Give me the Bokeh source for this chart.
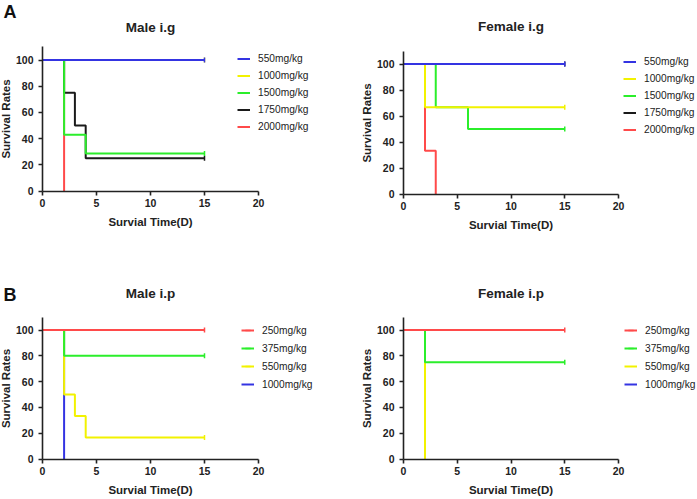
import numpy as np
from bokeh.plotting import figure
from bokeh.layouts import gridplot
from bokeh.models import Legend, LegendItem, Label, Range1d, ColumnDataSource
from bokeh.embed import file_html
from bokeh.resources import INLINE

# ---------------- data ----------------
x_ticks = [0, 5, 10, 15, 20]
y_ticks = [0, 20, 40, 60, 80, 100]

BLUE, YELLOW, GREEN, BLACK, RED = "#3434E2", "#F2F200", "#2BEE2B", "#1A1A1A", "#FF4A4A"

# Male i.g
mig_labels = ["550mg/kg", "1000mg/kg", "1500mg/kg", "1750mg/kg", "2000mg/kg"]
mig_colors = [BLUE, YELLOW, GREEN, BLACK, RED]
mig_times = [[0, 15], [0, 15], [0, 2, 4, 15], [0, 2, 3, 4, 15], [0, 2]]
mig_surv = [[100, 100], [100, 100], [100, 42.9, 28.6, 28.6], [100, 75, 50, 25, 25], [100, 0]]

# Female i.g
fig_labels = ["550mg/kg", "1000mg/kg", "1500mg/kg", "1750mg/kg", "2000mg/kg"]
fig_colors = [BLUE, YELLOW, GREEN, BLACK, RED]
fig_times = [[0, 15], [0, 2, 15], [0, 3, 6, 15], [0, 15], [0, 2, 3]]
fig_surv = [[100, 100], [100, 66.7, 66.7], [100, 66.7, 50, 50], [100, 100], [100, 33.3, 0]]

# Male i.p
mip_labels = ["250mg/kg", "375mg/kg", "550mg/kg", "1000mg/kg"]
mip_colors = [RED, GREEN, YELLOW, BLUE]
mip_times = [[0, 15], [0, 2, 15], [0, 2, 3, 4, 15], [0, 2]]
mip_surv = [[100, 100], [100, 80, 80], [100, 50, 33.3, 16.7, 16.7], [100, 0]]

# Female i.p
fip_labels = ["250mg/kg", "375mg/kg", "550mg/kg", "1000mg/kg"]
fip_colors = [RED, GREEN, YELLOW, BLUE]
fip_times = [[0, 15], [0, 2, 15], [0, 2], [0, 2]]
fip_surv = [[100, 100], [100, 75, 75], [100, 0], [100, 0]]

FONT = "Liberation Sans"
INK = "#222222"


def panel(title, labels, colors, times, surv, W, H, x0, x20, y0, y100,
          title_y, leg_xy, gh, letter=None, letter_xy=None):
    # pixel layout -> ranges (frame covers the whole figure, axes pinned at 0)
    kx = (x20 - x0) / 20.0
    ky = (y0 - y100) / 100.0
    xr = Range1d(-x0 / kx, (W - x0) / kx)
    yr = Range1d(-(H - y0) / ky, y0 / ky)

    def dx(px):
        return (px - x0) / kx

    def dy(py):
        return (y0 - py) / ky

    p = figure(width=W, height=H, x_range=xr, y_range=yr, title=None,
               output_backend="svg", toolbar_location=None,
               min_border_left=0, min_border_right=0, min_border_top=0, min_border_bottom=0)
    p.xgrid.visible = False
    p.ygrid.visible = False
    p.outline_line_color = None
    p.background_fill_color = "white"
    p.border_fill_color = "white"
    p.xaxis.ticker = x_ticks
    p.yaxis.ticker = y_ticks
    p.xaxis.axis_label = "Survial Time(D)"
    p.yaxis.axis_label = "Survival Rates"
    p.xaxis.fixed_location = 0
    p.yaxis.fixed_location = 0
    p.xaxis.bounds = (0, 20)
    p.yaxis.bounds = (0, 110)
    for ax in (p.xaxis[0], p.yaxis[0]):
        ax.axis_line_width = 1.6
        ax.axis_line_color = INK
        ax.major_tick_line_width = 1.6
        ax.major_tick_line_color = INK
        ax.major_tick_out = 4
        ax.major_tick_in = 0
        ax.minor_tick_line_color = None
        ax.major_label_text_font = FONT
        ax.major_label_text_font_style = "bold"
        ax.major_label_text_font_size = "10.5px"
        ax.major_label_text_color = INK
        ax.axis_label_text_font = FONT
        ax.axis_label_text_font_style = "bold"
        ax.axis_label_text_font_size = "11.5px"
        ax.axis_label_text_color = INK
    p.xaxis[0].major_label_standoff = 4
    p.xaxis[0].axis_label_standoff = 5
    p.yaxis[0].major_label_standoff = 5
    p.yaxis[0].axis_label_standoff = 1

    items = []
    for t, s, c, lab in reversed(list(zip(times, surv, colors, labels))):
        src = ColumnDataSource(dict(x=t, y=s))
        r = p.step("x", "y", source=src, mode="after", line_color=c, line_width=2)
        if s[-1] > 0:
            end = ColumnDataSource(dict(x=[t[-1]], y=[s[-1]]))
        else:
            end = ColumnDataSource(dict(x=[], y=[]))
        m = p.scatter("x", "y", source=end, marker="dash", angle=np.pi / 2, size=5,
                      line_color=c, line_width=1.5)
        items.append(LegendItem(label=lab, renderers=[r, m]))
    items.reverse()
    leg = Legend(items=items, location=leg_xy, orientation="vertical", padding=0, margin=0,
                 border_line_color=None, background_fill_alpha=0,
                 glyph_width=13, glyph_height=gh, label_height=gh, spacing=2,
                 label_standoff=8, label_text_font=FONT, label_text_font_size="10.2px",
                 label_text_color=INK)
    p.add_layout(leg, "center")

    p.add_layout(Label(x=10, y=dy(title_y), text=title, text_font=FONT,
                       text_font_size="13.5px", text_font_style="bold", text_color=INK,
                       text_align="center", text_baseline="middle"))
    if letter:
        p.add_layout(Label(x=dx(letter_xy[0]), y=dy(letter_xy[1]), text=letter,
                           text_font=FONT, text_font_size="18px", text_font_style="bold",
                           text_color="#111111", text_align="left",
                           text_baseline="middle"))
    return p


tl = panel("Male i.g", mig_labels, mig_colors, mig_times, mig_surv,
           350, 250, 42, 258, 190.5, 59.5, 27, (237, 116), 15, "A", (3, 11))
tr = panel("Female i.g", fig_labels, fig_colors, fig_times, fig_surv,
           346, 250, 53, 268, 193.5, 63.5, 26, (273, 113), 15)
bl = panel("Male i.p", mip_labels, mip_colors, mip_times, mip_surv,
           350, 248, 42, 258, 208.5, 79.5, 43, (241, 106), 16, "B", (3, 44))
br = panel("Female i.p", fip_labels, fip_colors, fip_times, fip_surv,
           346, 248, 53, 268, 208.5, 79.5, 43, (274, 106), 16)

grid = gridplot([[tl, tr], [bl, br]], toolbar_location=None)

open("out.html", "w").write(file_html(grid, INLINE))
